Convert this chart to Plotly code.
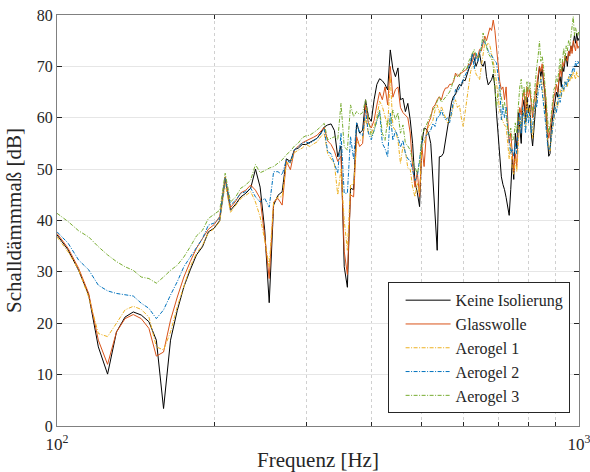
import numpy as np
import plotly.graph_objects as go

freq = list(range(100, 1001, 5))

keine = [
    37.2, 34.3, 30.3, 25.5, 15.4, 10.1, 18.3, 21.2, 22.2, 21.6,
    20.3, 16.7, 3.4, 16.7, 22.5, 27.1, 30.4, 33.3, 34.9, 37.8,
    38.5, 40.0, 48.2, 42.0, 43.2, 44.6, 45.3, 46.3, 50.0, 46.5,
    38.1, 24.0, 43.0, 44.9, 45.6, 52.0, 51.5, 53.8, 54.1, 54.8,
    54.8, 55.2, 55.6, 56.0, 57.0, 58.2, 58.6, 58.8, 57.5, 52.4,
    54.5, 31.0, 27.0, 46.3, 46.0, 59.0, 57.0, 57.6, 63.5, 60.2,
    59.3, 63.5, 66.5, 67.6, 67.2, 66.5, 65.4, 73.2, 69.5, 68.0,
    69.7, 63.5, 63.8, 61.2, 62.8, 59.6, 55.0, 47.5, 45.5, 42.7,
    55.0, 58.0, 57.8, 57.0, 55.0, 48.0, 39.5, 34.2, 52.4, 52.5,
    53.1, 55.5, 58.3, 61.0, 63.0, 64.2, 64.5, 65.8, 66.5, 66.2,
    67.4, 67.2, 68.5, 69.5, 70.3, 72.6, 71.5, 70.0, 71.0, 72.5,
    70.5, 70.0, 71.0, 68.0, 66.4, 67.0, 67.4, 68.5, 66.0, 60.9,
    56.0, 53.0, 48.5, 47.0, 46.0, 44.5, 43.0, 41.0, 46.0, 52.0,
    48.0, 57.0, 54.0, 61.0, 58.0, 55.0, 62.0, 63.5, 59.0, 64.0,
    61.0, 62.5, 57.0, 54.5, 58.0, 62.0, 65.0, 67.5, 70.0, 68.0,
    69.5, 67.0, 65.0, 60.0, 56.0, 52.5, 53.0, 58.0, 60.0, 62.0,
    63.0, 65.0, 64.0, 67.0, 68.0, 66.0, 70.0, 69.0, 71.0, 72.0,
    70.0, 73.0, 72.5, 74.0, 73.0, 75.0, 76.0, 74.5, 76.5, 75.0,
    75.5,
]

glasswolle = [
    37.5, 34.6, 30.7, 25.8, 16.7, 12.0, 18.3, 20.9, 21.7, 20.9,
    19.0, 13.6, 14.4, 20.6, 25.1, 29.0, 32.0, 34.6, 36.5, 38.3,
    39.2, 40.8, 48.5, 42.5, 43.8, 45.4, 45.9, 46.9, 45.9, 44.3,
    36.8, 28.7, 43.6, 44.3, 43.0, 51.5, 49.9, 53.7, 54.5, 55.1,
    55.5, 55.8, 56.2, 56.6, 57.3, 58.1, 55.5, 54.8, 53.5, 51.5,
    52.5, 34.0, 29.5, 45.0, 44.6, 56.3, 54.4, 55.0, 62.5, 58.9,
    58.0, 59.5, 62.5, 65.0, 63.5, 66.0, 62.5, 70.0, 64.0, 65.5,
    66.0, 62.0, 61.0, 60.5, 60.0, 57.0, 50.5, 46.5, 49.5, 44.6,
    54.3, 50.5, 57.0, 59.0, 60.0, 62.0, 62.5, 63.5, 64.1, 63.5,
    65.0, 65.8, 65.8, 66.5, 66.5, 67.0, 68.7, 68.0, 68.5, 68.7,
    69.0, 69.3, 69.5, 70.5, 70.2, 71.0, 72.6, 71.5, 72.0, 73.3,
    73.0, 74.5, 75.9, 75.0, 76.5, 77.5, 77.0, 79.0, 77.0, 73.5,
    70.0, 67.0, 65.5, 66.0, 63.5, 66.0, 60.0, 55.0, 57.0, 52.0,
    49.5, 53.0, 50.5, 58.0, 62.0, 60.5, 64.0, 65.0, 61.0, 66.0,
    64.0, 65.5, 62.0, 60.0, 63.0, 65.0, 67.0, 68.5, 70.0, 69.0,
    70.5, 68.0, 66.0, 63.0, 58.0, 56.0, 57.5, 60.0, 62.0, 64.0,
    65.0, 66.5, 65.0, 68.0, 69.5, 68.0, 71.0, 70.0, 72.0, 71.5,
    71.0, 73.0, 72.0, 74.0, 72.5, 75.0, 74.0, 73.0, 75.0, 73.5,
    74.0,
]

aerogel1 = [
    36.8, 33.9, 30.4, 25.1, 18.0, 17.4, 20.0, 22.6, 23.3, 22.7,
    21.2, 15.4, 14.8, 18.3, 23.2, 27.4, 31.0, 33.6, 35.2, 37.6,
    38.4, 39.8, 47.2, 41.6, 43.0, 44.3, 44.9, 45.6, 43.6, 40.7,
    36.2, 31.0, 43.6, 44.6, 44.6, 51.2, 51.2, 53.2, 53.7, 54.1,
    54.8, 54.4, 54.9, 55.3, 56.3, 57.0, 53.0, 52.1, 51.0, 45.0,
    50.0, 40.0, 34.2, 47.0, 47.0, 55.0, 55.5, 56.0, 60.0, 57.0,
    57.0, 58.3, 60.2, 63.2, 62.2, 60.0, 58.3, 68.0, 58.3, 57.5,
    55.6, 51.1, 54.5, 53.5, 50.2, 50.0, 46.5, 44.6, 47.2, 45.2,
    54.3, 55.0, 56.5, 58.3, 58.8, 59.5, 61.5, 62.5, 61.0, 62.2,
    61.0, 60.0, 59.0, 59.5, 60.5, 62.5, 63.5, 62.0, 62.5, 60.0,
    58.3, 61.0, 64.0, 66.5, 69.0, 70.0, 70.0, 68.5, 68.0, 67.4,
    70.0, 72.6, 74.6, 74.0, 74.6, 74.0, 72.6, 71.0, 69.3, 66.8,
    64.0, 61.5, 60.0, 59.0, 58.5, 58.3, 55.0, 52.0, 55.0, 50.0,
    49.0, 52.0, 49.5, 56.0, 60.0, 58.0, 62.0, 61.0, 58.0, 63.0,
    60.0, 62.0, 58.0, 56.0, 60.0, 63.0, 65.0, 67.0, 66.0, 68.0,
    66.5, 64.0, 62.0, 59.0, 56.0, 54.5, 53.4, 56.0, 58.0, 60.0,
    61.0, 63.0, 62.0, 64.0, 65.5, 64.0, 66.0, 65.0, 67.0, 66.5,
    66.0, 68.0, 67.0, 68.5, 67.5, 69.0, 68.0, 67.5, 69.0, 68.0,
    68.0,
]

aerogel2 = [
    37.8, 35.6, 32.3, 30.4, 27.4, 26.3, 25.8, 25.5, 25.3, 23.9,
    22.9, 20.9, 22.6, 25.5, 28.1, 31.0, 32.9, 34.9, 36.5, 39.1,
    39.5, 40.5, 48.2, 43.0, 44.0, 45.3, 45.6, 46.3, 44.6, 43.6,
    44.3, 42.6, 49.5, 49.5, 48.9, 51.8, 51.2, 53.8, 54.3, 55.1,
    55.3, 55.0, 55.5, 56.0, 56.8, 57.8, 53.4, 53.0, 51.0, 49.2,
    57.0, 45.3, 45.3, 56.3, 52.0, 59.0, 57.0, 56.5, 61.5, 57.0,
    55.7, 57.6, 59.6, 61.2, 55.0, 54.0, 52.4, 60.9, 55.6, 57.5,
    56.3, 54.3, 55.6, 53.0, 52.0, 51.7, 49.8, 47.8, 48.5, 51.7,
    55.3, 55.9, 56.6, 57.0, 57.6, 58.9, 58.3, 60.2, 60.2, 61.5,
    60.3, 59.6, 60.0, 59.0, 61.5, 63.5, 65.5, 65.0, 65.8, 66.5,
    67.5, 68.0, 69.0, 70.0, 71.0, 72.6, 69.5, 72.6, 71.0, 72.6,
    74.0, 75.2, 74.6, 74.0, 73.0, 72.6, 72.0, 71.6, 71.0, 70.7,
    68.0, 66.1, 59.6, 62.2, 60.0, 62.2, 58.0, 55.0, 53.0, 54.0,
    52.5, 55.0, 53.0, 58.0, 61.0, 57.0, 62.0, 60.0, 57.0, 61.5,
    59.0, 61.0, 57.0, 58.5, 61.0, 63.0, 62.0, 65.0, 66.0, 67.5,
    65.0, 63.0, 61.0, 58.0, 55.0, 53.8, 54.0, 56.0, 58.5, 60.0,
    62.0, 61.0, 63.0, 64.5, 63.0, 65.0, 66.5, 65.5, 67.0, 66.0,
    67.5, 67.0, 68.5, 68.0, 69.0, 70.0, 69.0, 71.0, 70.0, 71.0,
    70.5,
]

aerogel3 = [
    41.4, 39.8, 38.0, 36.8, 34.9, 33.3, 32.0, 31.0, 30.3, 29.0,
    28.7, 27.8, 29.0, 30.3, 31.3, 32.9, 34.9, 37.0, 38.1, 40.4,
    41.2, 42.0, 49.2, 43.6, 44.6, 46.3, 46.9, 47.9, 50.9, 49.3,
    49.7, 50.2, 50.5, 51.2, 51.8, 52.8, 53.5, 54.5, 55.1, 56.1,
    56.5, 56.6, 57.1, 57.6, 58.3, 58.9, 55.7, 56.0, 56.3, 55.7,
    62.8, 54.4, 53.7, 62.5, 60.2, 61.2, 60.6, 61.0, 63.5, 60.0,
    56.3, 57.5, 59.6, 61.5, 57.0, 55.6, 59.6, 58.5, 61.5, 59.6,
    61.0, 57.0, 58.6, 55.0, 54.5, 53.7, 51.7, 50.4, 49.1, 51.1,
    56.6, 57.6, 58.5, 59.6, 60.5, 61.5, 62.2, 63.2, 64.1, 63.0,
    63.5, 64.0, 64.5, 65.0, 66.0, 67.4, 68.2, 68.5, 68.0, 69.0,
    69.3, 70.0, 69.5, 71.0, 71.7, 72.5, 73.3, 72.0, 71.5, 72.5,
    73.5, 76.5, 75.0, 73.5, 72.5, 72.0, 71.5, 70.0, 66.0, 62.0,
    65.1, 65.5, 64.0, 62.0, 63.0, 60.0, 58.0, 56.5, 58.0, 55.5,
    56.0, 59.0, 57.0, 62.0, 66.0, 67.5, 64.0, 66.0, 63.0, 67.0,
    65.0, 67.0, 63.0, 61.0, 64.0, 68.0, 70.0, 72.0, 74.9, 71.0,
    72.0, 70.0, 67.0, 64.0, 60.0, 57.0, 58.5, 61.0, 63.0, 65.5,
    66.0, 68.0, 67.0, 70.0, 71.5, 69.0, 72.0, 73.5, 71.0, 74.0,
    73.0, 75.0, 74.0, 76.0, 77.0, 79.7, 76.0, 77.5, 76.5, 76.0,
    77.0,
]

series_names = ["Keine Isolierung", "Glasswolle", "Aerogel 1", "Aerogel 2", "Aerogel 3"]
series_data = [keine, glasswolle, aerogel1, aerogel2, aerogel3]
colors = ["#000000", "#D95319", "#EDB120", "#0072BD", "#77AC30"]
dashes = ["solid", "solid", "4px,1.5px,1px,1.5px", "4px,1.5px,1px,1.5px", "4px,1.5px,1px,1.5px"]

xtick_vals = [100, 1000]
xtick_text = ["10<sup>2</sup>", "10<sup>3</sup>"]
minor_vals = [200, 300, 400, 500, 600, 700, 800, 900]
ytick_vals = [0, 10, 20, 30, 40, 50, 60, 70, 80]

FONT = "Liberation Serif"
TXT = "#262626"

fig = go.Figure()
for name, data, c, d in zip(series_names, series_data, colors, dashes):
    fig.add_trace(go.Scatter(
        x=freq, y=data, mode="lines", name=name,
        line=dict(color=c, width=1, dash=d),
    ))

fig.update_layout(
    width=590, height=472,
    margin=dict(l=57, r=11, t=15, b=46, autoexpand=False),
    paper_bgcolor="white", plot_bgcolor="white",
    font=dict(family=FONT, size=16, color=TXT),
    showlegend=True,
    legend=dict(
        x=0.982, y=0.031, xanchor="right", yanchor="bottom",
        bgcolor="white", bordercolor=TXT, borderwidth=1,
        font=dict(family=FONT, size=16, color=TXT),
        itemwidth=45, tracegroupgap=0, indentation=12,
    ),
)

fig.update_xaxes(
    type="log", range=[2, 3], automargin=False, ticklabeloverflow="allow",
    tickmode="array", tickvals=xtick_vals, ticktext=xtick_text,
    ticks="inside", ticklen=5, tickcolor=TXT, ticklabelstandoff=3,
    showline=True, linecolor="#808080", linewidth=1, mirror="ticks",
    showgrid=False, zeroline=False,
    minor=dict(tickmode="array", tickvals=minor_vals, ticks="inside", ticklen=4,
               tickcolor=TXT, showgrid=True, gridcolor="#d0d0d0",
               griddash="dot", gridwidth=1),
    tickfont=dict(family=FONT, size=17, color=TXT),
    title=dict(text="Frequenz [Hz]", font=dict(family=FONT, size=21, color=TXT), standoff=6),
)

fig.update_yaxes(
    range=[0, 80], tickmode="array", tickvals=ytick_vals, automargin=False,
    ticks="inside", ticklen=5, tickcolor=TXT,
    showline=True, linecolor="#808080", linewidth=1, mirror="ticks",
    showgrid=True, gridcolor="#e6e6e6", gridwidth=1, zeroline=False,
    tickfont=dict(family=FONT, size=16, color=TXT),
    title=dict(text="Schalldämmmaß [dB]", font=dict(family=FONT, size=21, color=TXT), standoff=9),
)

fig.write_html("out.html")
